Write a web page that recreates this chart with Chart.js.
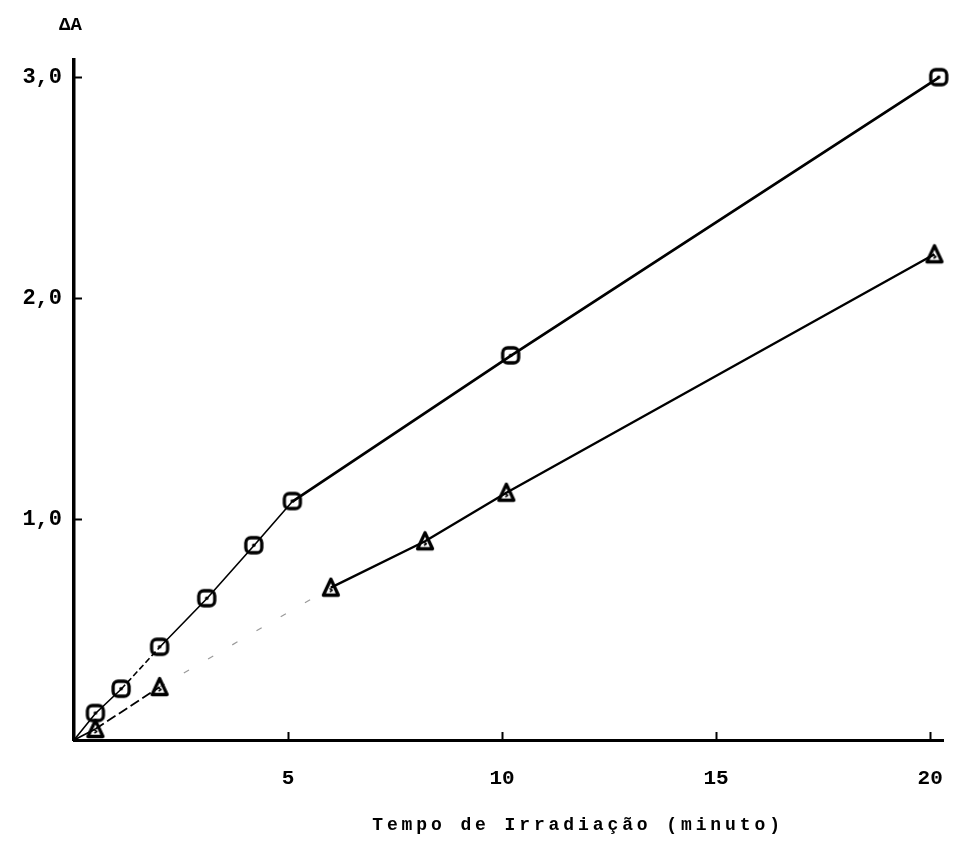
<!DOCTYPE html>
<html>
<head>
<meta charset="utf-8">
<script src="https://cdn.jsdelivr.net/npm/chart.js@4/dist/chart.umd.min.js"></script>
<style>
  html, body { margin: 0; padding: 0; background: #fff; }
  #wrap { width: 953px; height: 843px; position: relative; }
</style>
</head>
<body>
<div id="wrap"><canvas id="c"></canvas></div>
<script>
// Irradiation time (min) and absorbance change for the two series
const squareTime = [0, 0.5, 1.1, 2.0, 3.1, 4.2, 5.1, 10.2, 20.2];
const squareDeltaA = [0, 0.12, 0.23, 0.42, 0.64, 0.88, 1.08, 1.74, 3.0];
const triangleTime = [0, 0.5, 2.0, 6.0, 8.2, 10.1, 20.1];
const triangleDeltaA = [0, 0.05, 0.24, 0.69, 0.90, 1.12, 2.20];

const xTickValues = [5, 10, 15, 20];
const xTickLabels = ['5', '10', '15', '20'];
const yTickValues = [1, 2, 3];
const yTickLabels = ['1,0', '2,0', '3,0'];

const yAxisTitle = 'ΔA';
const xAxisTitle = 'Tempo de Irradiação (minuto)';

const FONT = '"Liberation Mono", "DejaVu Sans Mono", monospace';

// Hand-drawn style markers: a rounded square with a centre dot, and a triangle
function squareMarker() {
  const c = document.createElement('canvas');
  c.width = 22; c.height = 22;
  const g = c.getContext('2d');
  g.strokeStyle = '#000'; g.lineWidth = 3.3;
  g.beginPath();
  g.roundRect(3, 3, 16, 15, 5);
  g.stroke();
  g.fillStyle = '#000';
  g.beginPath(); g.arc(11, 10.5, 1.8, 0, Math.PI * 2); g.fill();
  return c;
}
function triangleMarker() {
  const c = document.createElement('canvas');
  c.width = 22; c.height = 22;
  const g = c.getContext('2d');
  g.strokeStyle = '#000'; g.lineWidth = 3.3; g.lineJoin = 'round';
  g.beginPath();
  g.moveTo(11, 2.5); g.lineTo(18.5, 18.5); g.lineTo(3.5, 18.5); g.closePath();
  g.stroke();
  g.lineWidth = 1.8;
  g.beginPath(); g.moveTo(10, 12); g.lineTo(12.2, 13.5); g.lineTo(10, 15); g.stroke();
  return c;
}
const sqImg = squareMarker();
const trImg = triangleMarker();

const toPoints = (xs, ys) => xs.map((x, i) => ({ x: x, y: ys[i] }));

// Axis titles drawn in the typewriter style, placed from the chart area
const axisTitles = {
  id: 'axisTitles',
  afterDraw(chart) {
    const { ctx, chartArea } = chart;
    ctx.save();
    ctx.fillStyle = '#000';
    ctx.textBaseline = 'middle';
    ctx.font = 'bold 19px ' + FONT;
    ctx.textAlign = 'left';
    ctx.fillText(yAxisTitle, chartArea.left - 15, 25);
    ctx.font = 'bold 18px ' + FONT;
    ctx.letterSpacing = '3.9px';
    ctx.textAlign = 'center';
    ctx.fillText(xAxisTitle, chartArea.left + 0.58 * (chartArea.right - chartArea.left), 825);
    ctx.restore();
  }
};

new Chart(document.getElementById('c'), {
  type: 'line',
  data: {
    datasets: [
      {
        data: toPoints(squareTime, squareDeltaA),
        clip: false,
        borderColor: '#000',
        borderWidth: 2,
        pointStyle: sqImg,
        pointRadius: ctx => ctx.dataIndex === 0 ? 0 : 8,
        tension: 0,
        segment: {
          borderWidth: ctx => ctx.p0.parsed.x < 5 ? 1.6 : 2.8,
          borderDash: ctx => (ctx.p0.parsed.x >= 1 && ctx.p0.parsed.x < 2) ? [6, 3] : undefined
        }
      },
      {
        data: toPoints(triangleTime, triangleDeltaA),
        clip: false,
        borderColor: '#000',
        borderWidth: 2,
        pointStyle: trImg,
        pointRadius: ctx => ctx.dataIndex === 0 ? 0 : 8,
        tension: 0,
        segment: {
          borderWidth: ctx => ctx.p0.parsed.x < 2 ? 1.8 : (ctx.p0.parsed.x < 5 ? 1.2 : 2.4),
          borderColor: ctx => (ctx.p0.parsed.x >= 2 && ctx.p0.parsed.x < 5) ? '#9a9a9a' : '#000',
          borderDash: ctx => {
            const x0 = ctx.p0.parsed.x;
            if (x0 >= 0.4 && x0 < 2) return [10, 4];
            if (x0 >= 2 && x0 < 5) return [6, 22];
            return undefined;
          }
        }
      }
    ]
  },
  plugins: [axisTitles],
  options: {
    responsive: true,
    maintainAspectRatio: false,
    animation: false,
    layout: { padding: { left: 10, right: 4, top: 60, bottom: 53 } },
    plugins: { legend: { display: false }, tooltip: { enabled: false } },
    scales: {
      x: {
        type: 'linear',
        min: 0,
        max: 20.3,
        afterBuildTicks: s => { s.ticks = xTickValues.map(v => ({ value: v })); },
        afterFit: s => { s.height = 50; s.paddingLeft = 0; s.paddingRight = 0; },
        ticks: {
          callback: v => xTickLabels[xTickValues.indexOf(v)],
          color: '#000',
          font: { family: FONT, size: 21, weight: 'bold' },
          padding: 34,
          maxRotation: 0
        },
        grid: {
          drawOnChartArea: false,
          drawTicks: true,
          tickLength: -8,
          tickWidth: 2,
          tickColor: '#000'
        },
        border: { display: true, color: '#000', width: 3 }
      },
      y: {
        type: 'linear',
        min: 0,
        max: 3.08,
        afterBuildTicks: s => { s.ticks = yTickValues.map(v => ({ value: v })); },
        afterFit: s => { s.width = 64; s.paddingTop = 0; s.paddingBottom = 0; },
        ticks: {
          callback: v => yTickLabels[yTickValues.indexOf(v)],
          color: '#000',
          font: { family: FONT, size: 22, weight: 'bold' },
          padding: 20
        },
        grid: {
          drawOnChartArea: false,
          drawTicks: true,
          tickLength: -8,
          tickWidth: 2,
          tickColor: '#000'
        },
        border: { display: true, color: '#000', width: 3.5 }
      }
    }
  }
});
</script>
</body>
</html>
